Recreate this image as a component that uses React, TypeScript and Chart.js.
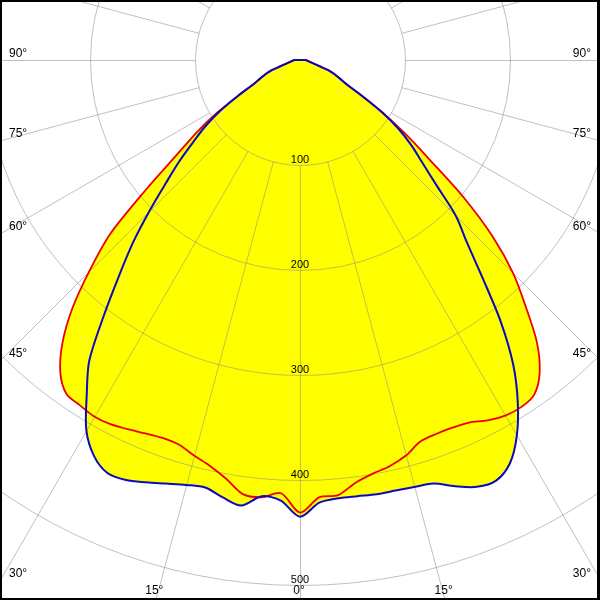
import React, { useEffect, useRef } from 'react';
import { Chart, registerables } from 'chart.js';

Chart.register(...registerables);

// Gamma angles (degrees from nadir) for every intensity list below
const GAMMA = [0, 2.5, 5, 7.5, 10, 12.5, 15, 17.5, 20, 22.5, 25, 27.5, 30, 32.5, 35, 37.5, 40, 42.5, 45, 47.5, 50, 52.5, 55, 57.5, 60, 62.5, 65, 67.5, 70, 72.5, 75, 77.5, 80, 82.5, 85, 87.5, 90, 180];

// Red plane (C0 right half, C180 left half), cd
const C0 = [431, 417, 416, 406, 400, 396, 390, 381, 379, 379, 381, 387, 391, 392, 389, 375, 351, 318, 287, 249, 203, 155, 122, 93, 68, 50, 42, 36, 29, 19, 14, 11, 9, 8, 7, 6, 5, 0];
const C180 = [431, 413, 418, 417, 405, 396, 390, 384, 383, 385, 388, 391, 392, 390, 388, 375, 352, 321, 283, 245, 190, 147, 120, 94, 68, 50, 42, 36, 29, 19, 14, 11, 9, 8, 7, 6, 5, 0];
// Blue plane (C90 right half, C270 left half), cd
const C90 = [435, 422, 419, 419, 420, 420, 421, 423, 432, 440, 442, 433, 413, 386, 354, 314, 270, 235, 210, 176, 152, 134, 115, 93, 68, 50, 42, 36, 29, 19, 14, 11, 9, 8, 7, 6, 5, 0];
const C270 = [435, 420, 417, 428, 423, 417, 419, 423, 428, 433, 434, 425, 407, 378, 350, 307, 268, 235, 202, 173, 150, 128, 110, 90, 68, 50, 42, 36, 29, 19, 14, 11, 9, 8, 7, 6, 5, 0];

// Grid
const RINGS = [100, 200, 300, 400, 500];
const SPOKES = [0, 15, 30, 45, 60, 75, 90, 105, 120, 135, 150, 165, 180];
const ANGLE_LABELS = [0, 15, 30, 45, 60, 75, 90];

const GRID_COLOR = 'rgba(140,140,140,0.55)';
const FONT_FAMILY = '"Liberation Sans", Arial, sans-serif';

function buildPlane(left: number[], right: number[]) {
  const pts: { x: number; y: number }[] = [];
  for (let k = GAMMA.length - 1; k >= 0; k--) {
    const g = (GAMMA[k] * Math.PI) / 180;
    pts.push({ x: -left[k] * Math.sin(g), y: left[k] * Math.cos(g) });
  }
  for (let k = 1; k < GAMMA.length; k++) {
    const g = (GAMMA[k] * Math.PI) / 180;
    pts.push({ x: right[k] * Math.sin(g), y: right[k] * Math.cos(g) });
  }
  return pts;
}

function drawGrid(chart: any) {
  const ctx: CanvasRenderingContext2D = chart.ctx;
  const xs = chart.scales.x;
  const ys = chart.scales.y;
  const W = chart.width;
  const H = chart.height;
  const cx = xs.getPixelForValue(0);
  const cy = ys.getPixelForValue(0);
  const unit = (xs.getPixelForValue(100) - cx) / 100;
  ctx.save();
  ctx.translate(0.5, 0.5);
  ctx.strokeStyle = GRID_COLOR;
  ctx.lineWidth = 1;
  RINGS.forEach((r) => {
    ctx.beginPath();
    ctx.arc(cx, cy, r * unit, 0, Math.PI * 2);
    ctx.stroke();
  });
  SPOKES.forEach((a) => {
    const sides = a === 0 || a === 180 ? [1] : [-1, 1];
    sides.forEach((s) => {
      const g = (a * Math.PI) / 180;
      const dx = s * Math.sin(g);
      const dy = Math.cos(g);
      const r0 = RINGS[0] * unit;
      const r1 = 1500;
      ctx.beginPath();
      ctx.moveTo(cx + dx * r0, cy + dy * r0);
      ctx.lineTo(cx + dx * r1, cy + dy * r1);
      ctx.stroke();
    });
  });
  ctx.restore();

  ctx.save();
  ctx.fillStyle = '#000';
  // ring values
  ctx.font = `11px ${FONT_FAMILY}`;
  ctx.textAlign = 'center';
  ctx.textBaseline = 'alphabetic';
  RINGS.forEach((r) => {
    ctx.fillText(String(r), cx, cy + r * unit - 2);
  });
  // angle labels
  ctx.font = `12px ${FONT_FAMILY}`;
  ANGLE_LABELS.forEach((a) => {
    const sides = a === 0 ? [1] : [-1, 1];
    sides.forEach((s) => {
      const g = (a * Math.PI) / 180;
      const sn = Math.sin(g);
      const cs = Math.cos(g);
      const tx = sn > 1e-9 ? (s > 0 ? W - cx : cx) / sn : Infinity;
      const ty = cs > 1e-9 ? (H - cy) / cs : Infinity;
      const text = `${a}°`;
      if (tx < ty) {
        const y = cy + cs * tx;
        if (s < 0) {
          ctx.textAlign = 'left';
          ctx.fillText(text, 9, y - 3);
        } else {
          ctx.textAlign = 'right';
          ctx.fillText(text, W - 9, y - 3);
        }
      } else {
        const x = cx + s * sn * ty;
        ctx.textAlign = 'center';
        ctx.fillText(text, x - 1, H - 6);
      }
    });
  });
  ctx.restore();
}

const polarGridPlugin = {
  id: 'polarGrid',
  beforeDraw(chart: any) {
    const ctx = chart.ctx;
    ctx.save();
    ctx.fillStyle = '#ffffff';
    ctx.fillRect(0, 0, chart.width, chart.height);
    ctx.restore();
  },
  beforeDatasetsDraw(chart: any) {
    chart.$gridDone = false;
  },
  beforeDatasetDraw(chart: any, args: any) {
    const ds = chart.data.datasets[args.index];
    if (!ds.isLine || chart.$gridDone) return;
    chart.$gridDone = true;
    drawGrid(chart);
  },
  afterDraw(chart: any) {
    const ctx = chart.ctx;
    const W = chart.width;
    const H = chart.height;
    ctx.save();
    ctx.fillStyle = '#000';
    ctx.fillRect(0, 0, W, 2);
    ctx.fillRect(0, 0, 2, H);
    ctx.fillRect(W - 3, 0, 3, H);
    ctx.fillRect(0, H - 2, W, 2);
    ctx.restore();
  },
};

export default function App() {
  const ref = useRef<HTMLCanvasElement>(null);
  useEffect(() => {
    document.body.style.margin = '0';
    const canvas = ref.current;
    if (!canvas) return;
    const red = buildPlane(C180, C0);
    const blue = buildPlane(C270, C90);
    const fillDs = (data: any[]) => ({
      data,
      showLine: true,
      fill: 'shape',
      backgroundColor: '#ffff00',
      borderColor: 'rgba(0,0,0,0)',
      borderWidth: 0,
      pointRadius: 0,
      tension: 0.3,
      order: 10,
    });
    const chart = new Chart(canvas, {
      type: 'scatter',
      data: {
        datasets: [
          fillDs(red) as any,
          fillDs(blue) as any,
          {
            data: red,
            showLine: true,
            fill: false,
            borderColor: '#ee0000',
            borderWidth: 1.8,
            pointRadius: 0,
            tension: 0.3,
            order: 2,
            isLine: true,
          } as any,
          {
            data: blue,
            showLine: true,
            fill: false,
            borderColor: '#0a0ac0',
            borderWidth: 2,
            pointRadius: 0,
            tension: 0.3,
            order: 1,
            isLine: true,
          } as any,
        ],
      },
      options: {
        animation: false,
        responsive: false,
        devicePixelRatio: 1,
        layout: { padding: 0 },
        plugins: {
          legend: { display: false },
          tooltip: { enabled: false },
        },
        events: [],
        scales: {
          x: { type: 'linear', display: false, min: -300 / 1.05, max: 300 / 1.05 },
          y: { type: 'linear', display: false, reverse: true, min: -60 / 1.05, max: 540 / 1.05 },
        },
      },
      plugins: [polarGridPlugin],
    });
    return () => chart.destroy();
  }, []);
  return (
    <div style={{ position: 'absolute', left: 0, top: 0, width: 600, height: 600 }}>
      <canvas ref={ref} width={600} height={600} style={{ display: 'block' }} />
    </div>
  );
}
